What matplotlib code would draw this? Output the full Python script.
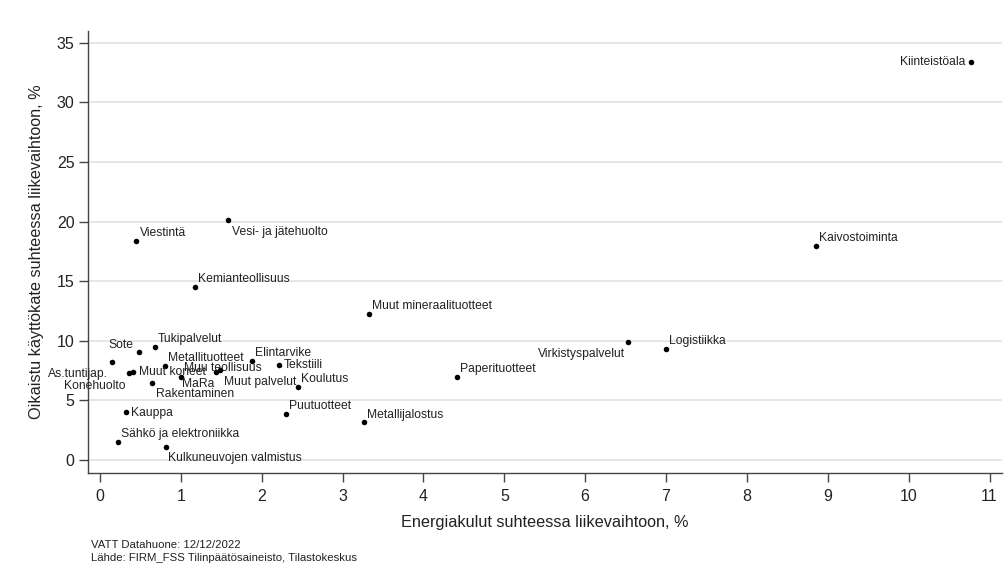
import matplotlib
matplotlib.use("Agg")
import matplotlib.pyplot as plt

plt.rcParams['font.family'] = ['Liberation Sans', 'DejaVu Sans']

# toimialat: energiakulut (%) ja oikaistu käyttökate (%)
industries = ['Kiinteistöala', 'Kaivostoiminta', 'Viestintä', 'Vesi- ja jätehuolto',
              'Kemianteollisuus', 'Muut mineraalituotteet', 'Virkistyspalvelut',
              'Logistiikka', 'Paperituotteet', 'Metallijalostus', 'Puutuotteet',
              'Tukipalvelut', 'Sote', 'As.tuntijap.', 'Konehuolto', 'Muut koneet',
              'Metallituotteet', 'Rakentaminen', 'MaRa', 'Muu teollisuus',
              'Muut palvelut', 'Elintarvike', 'Tekstiili', 'Koulutus', 'Kauppa',
              'Sähkö ja elektroniikka', 'Kulkuneuvojen valmistus']
energy = [10.77, 8.86, 0.445, 1.58, 1.175, 3.33, 6.53, 7.00, 4.415, 3.27, 2.30,
          0.68, 0.486, 0.148, 0.362, 0.412, 0.804, 0.64, 1.00, 1.484, 1.435,
          1.884, 2.214, 2.453, 0.318, 0.226, 0.813]
margin = [33.40, 17.91, 18.33, 20.15, 14.50, 12.23, 9.92, 9.31, 6.96, 3.15, 3.82,
          9.50, 9.08, 8.19, 7.27, 7.40, 7.91, 6.48, 6.98, 7.55, 7.40, 8.33, 7.99,
          6.14, 3.99, 1.52, 1.05]

# label placement (offset in pixels, horizontal alignment)
label_pos = {
    'Kiinteistöala': (-6, 0, 'right'),
    'Kaivostoiminta': (3, 8, 'left'),
    'Viestintä': (4, 8, 'left'),
    'Vesi- ja jätehuolto': (4, -12, 'left'),
    'Kemianteollisuus': (3, 8, 'left'),
    'Muut mineraalituotteet': (3, 8.5, 'left'),
    'Virkistyspalvelut': (-3, -12.5, 'right'),
    'Logistiikka': (3, 8, 'left'),
    'Paperituotteet': (3, 7.5, 'left'),
    'Metallijalostus': (3, 7.5, 'left'),
    'Puutuotteet': (3, 8, 'left'),
    'Tukipalvelut': (3, 8, 'left'),
    'Sote': (-6, 6.5, 'right'),
    'As.tuntijap.': (-4, -11.5, 'right'),
    'Konehuolto': (-4, -13, 'right'),
    'Muut koneet': (6, 0, 'left'),
    'Metallituotteet': (3, 8, 'left'),
    'Rakentaminen': (4, -11, 'left'),
    'MaRa': (1, -7.5, 'left'),
    'Muu teollisuus': (2.5, 1.5, 'center'),
    'Muut palvelut': (8, -10, 'left'),
    'Elintarvike': (3, 8, 'left'),
    'Tekstiili': (5, 0, 'left'),
    'Koulutus': (3, 8, 'left'),
    'Kauppa': (5, -1, 'left'),
    'Sähkö ja elektroniikka': (3, 8, 'left'),
    'Kulkuneuvojen valmistus': (2.5, -11, 'left'),
}

fig = plt.figure(figsize=(10.08, 5.8), dpi=100, facecolor='white')
ax = fig.add_axes([0.087, 0.185, 0.9067, 0.7616])

ax.scatter(energy, margin, s=16, color='black', zorder=3, linewidths=0)
for name, x, y in zip(industries, energy, margin):
    dx, dy, ha = label_pos[name]
    ax.annotate(name, (x, y), xytext=(dx, dy), textcoords='offset pixels',
                ha=ha, va='center', fontsize=8.7, color='#222222', zorder=4)

ax.set_xlim(-0.152, 11.15)
ax.set_ylim(-1.08, 36.0)
ax.set_xticks(range(0, 12))
ax.set_yticks(range(0, 36, 5))
ax.grid(axis='y', color='#e6e6e6', linewidth=1.4)
ax.set_axisbelow(True)
for side in ['top', 'right']:
    ax.spines[side].set_visible(False)
for side in ['left', 'bottom']:
    ax.spines[side].set_color('#444444')
    ax.spines[side].set_linewidth(1.0)
ax.tick_params(axis='both', length=6.5, width=1.0, color='#444444',
               labelsize=11.5, labelcolor='#222222')
ax.tick_params(axis='x', pad=5)
ax.tick_params(axis='y', pad=3)
ax.set_xlabel('Energiakulut suhteessa liikevaihtoon, %', fontsize=11.7,
              color='#222222', labelpad=8)
ax.set_ylabel('Oikaistu käyttökate suhteessa liikevaihtoon, %', fontsize=11.7,
              color='#222222', labelpad=9)

fig.text(0.090, 0.0595, 'VATT Datahuone: 12/12/2022', fontsize=8.2,
         color='#222222', va='center')
fig.text(0.090, 0.0385, 'Lähde: FIRM_FSS Tilinpäätösaineisto, Tilastokeskus',
         fontsize=8.2, color='#222222', va='center')

fig.savefig('out.png', dpi=100, facecolor='white')
